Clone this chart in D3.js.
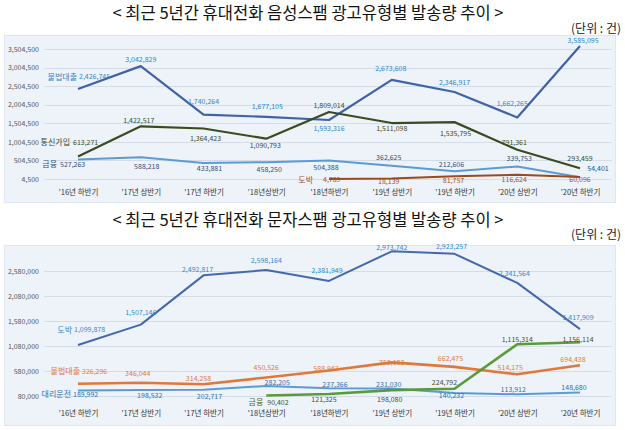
<!DOCTYPE html>
<html><head><meta charset="utf-8">
<script src="https://cdn.jsdelivr.net/npm/d3@7"></script>
<style>
html,body{margin:0;padding:0;background:#fff;}
svg{display:block;font-family:"Noto Sans CJK KR","Noto Sans",sans-serif;}
</style></head>
<body>
<svg id="c" width="625" height="430"></svg>
<script>
// ---------- DATA ----------
const categories = ["'16년 하반기","'17년 상반기","'17년 하반기","'18년상반기","'18년하반기","'19년 상반기","'19년 하반기","'20년 상반기","'20년 하반기"];

// Chart 1: 음성스팸
const title1 = "< 최근 5년간 휴대전화 음성스팸 광고유형별 발송량 추이 >";
const voiceNames = ["불법대출","통신가입","금융","도박"];
const voiceLoan    = [2426745,3042829,1740264,1677105,1593316,2673608,2346917,1662265,3585095];
const voiceTelecom = [613271,1422517,1364423,1090793,1809014,1511098,1535795,791361,293459];
const voiceFinance = [527263,588218,433881,458250,504388,362625,212606,339753,54401];
const voiceGamble  = [null,null,null,null,4789,18139,81757,116624,60096];
const voiceTicks = [4500,504500,1004500,1504500,2004500,2504500,3004500,3504500];

// Chart 2: 문자스팸
const title2 = "< 최근 5년간 휴대전화 문자스팸 광고유형별 발송량 추이 >";
const smsNames = ["도박","불법대출","대리운전","금융"];
const smsGamble  = [1099878,1507146,2492817,2598164,2381949,2973742,2923257,2341564,1417909];
const smsLoan    = [326296,346044,314258,450526,588942,752183,662475,514175,694438];
const smsDriver  = [189992,198532,202717,282205,237366,231030,140232,113912,148680];
const smsFinance = [null,null,null,90402,121325,198080,224792,1115314,1156114];
const smsTicks = [80000,580000,1080000,1580000,2080000,2580000];

const unitText = "(단위 : 건)";

// ---------- LAYOUT / STYLE ----------
const fmt = d3.format(",");
const svg = d3.select("#c");

function drawChart(cfg){
  const g = svg.append("g");
  // title + unit
  g.append("text").attr("x",308).attr("y",cfg.titleY).attr("text-anchor","middle")
    .attr("font-size",16.5).attr("fill","#111").text(cfg.title);
  g.append("text").attr("x",621).attr("y",cfg.unitY).attr("text-anchor","end")
    .attr("font-size",12).attr("fill","#222").text(unitText);
  // panel
  g.append("rect").attr("x",4.5).attr("y",cfg.panel[0]+0.5).attr("width",611).attr("height",cfg.panel[1]-cfg.panel[0])
    .attr("fill","#eef3f9").attr("stroke","#dfe6ef");
  const x = d3.scalePoint().domain(categories).range([78,580]);
  const y = d3.scaleLinear().domain(cfg.domain).range(cfg.range);
  // grid
  g.append("g").selectAll("line").data(cfg.ticks).join("line")
    .attr("x1",44).attr("x2",612).attr("y1",d=>Math.round(y(d))+0.5).attr("y2",d=>Math.round(y(d))+0.5)
    .attr("stroke","#d3dce7").attr("stroke-width",1);
  // y axis
  const ya = g.append("g").attr("transform","translate(39,0)")
    .call(d3.axisLeft(y).tickValues(cfg.ticks).tickFormat(fmt).tickSize(0).tickPadding(0));
  ya.select(".domain").remove();
  ya.selectAll("text").attr("font-size",7).attr("fill","#555").attr("font-family","Noto Sans CJK KR");
  // x axis
  const xa = g.append("g").attr("transform",`translate(0,${cfg.xLabelY})`)
    .call(d3.axisBottom(x).tickSize(0).tickPadding(0));
  xa.select(".domain").remove();
  xa.selectAll("text").attr("font-size",7.5).attr("fill","#333").attr("font-family","Noto Sans CJK KR").attr("dy","0.35em");
  // series
  cfg.series.forEach(s=>{
    const line = d3.line().defined(d=>d!=null).x((d,i)=>x(categories[i])).y(d=>y(d));
    g.append("path").datum(s.values).attr("d",line).attr("fill","none")
      .attr("stroke",s.color).attr("stroke-width",s.width).attr("stroke-linejoin","round");
  });
  // labels
  cfg.series.forEach(s=>{
    const first = s.values.findIndex(v=>v!=null);
    s.values.forEach((v,i)=>{
      if(v==null) return;
      const px = x(categories[i]), py = y(v);
      if(i===first){
        const f = s.first;
        g.append("text").attr("x",px+f.nameDx).attr("y",py+f.dy).attr("dy","0.35em")
          .attr("text-anchor","end").attr("font-size",8).attr("fill",s.nameColor||s.labelColor).text(s.name);
        g.append("text").attr("x",px+f.valDx).attr("y",py+f.dy).attr("dy","0.35em")
          .attr("text-anchor","start").attr("font-size",7).attr("fill",s.labelColor).text(fmt(v));
      } else {
        const o = s.off[i];
        g.append("text").attr("x",px+o[0]).attr("y",py+o[1]).attr("dy","0.35em")
          .attr("text-anchor","middle").attr("font-size",7).attr("fill",s.labelColor).text(fmt(v));
      }
    });
  });
}

drawChart({
  title:title1, titleY:19, unitY:33, panel:[35,202], xLabelY:192,
  domain:[voiceTicks[0],voiceTicks[voiceTicks.length-1]], range:[179,49], ticks:voiceTicks,
  series:[
    {name:voiceNames[0], values:voiceLoan, color:"#3f62aa", width:2.2, labelColor:"#2f86cc",
     first:{nameDx:-1,valDx:1,dy:-12},
     off:[null,[0,-7],[0,-13],[1,-10],[0,9],[-1,-11],[0,-9],[-5,-14],[3,-5]]},
    {name:voiceNames[1], values:voiceTelecom, color:"#3b4a1f", width:2.2, labelColor:"#3d4a1c",
     first:{nameDx:-8,valDx:-5,dy:-14},
     off:[null,[-2,-6],[2,10],[-1,7],[0,-6],[0,6],[1,11],[-3,-7],[0,-10]]},
    {name:voiceNames[2], values:voiceFinance, color:"#5b9bd5", width:2, labelColor:"#2c4f80",
     first:{nameDx:-21,valDx:-18,dy:5},
     off:[null,[6,9],[6,5],[3,7],[-3,7],[-3,-8],[-3,-7],[2,-8],[18,-9]]},
    {name:voiceNames[3], values:voiceGamble, color:"#9a4a1e", width:2, labelColor:"#a0522d",
     first:{nameDx:-16,valDx:-6,dy:1},
     off:[null,null,null,null,null,[-3,3],[-1,4],[-3,5],[0,3]]}
  ]
});

drawChart({
  title:title2, titleY:226, unitY:239, panel:[245,425], xLabelY:413,
  domain:[smsTicks[0],smsTicks[smsTicks.length-1]], range:[396,271], ticks:smsTicks,
  series:[
    {name:smsNames[0], values:smsGamble, color:"#4468b0", width:2, labelColor:"#2e8bd0",
     first:{nameDx:-6,valDx:-4,dy:-15},
     off:[null,[0,-12],[-6,-6],[0,-10],[-2,-10],[0,-4],[-3,-7],[-3,-9],[-2,-12]]},
    {name:smsNames[1], values:smsLoan, color:"#e0783a", width:2.6, labelColor:"#e07b39",
     first:{nameDx:2,valDx:4,dy:-12},
     off:[null,[-3,-9],[-5,-6],[0,-10],[-3,-2],[0,0],[-4,-8],[-7,-7],[-7,-6]]},
    {name:smsNames[2], values:smsDriver, color:"#5b9bd5", width:2, labelColor:"#2f6eb5",
     first:{nameDx:-7,valDx:-5,dy:4},
     off:[null,[9,5],[6,7],[11,-3],[6,-4],[-3,-4],[-3,3],[-4,-5],[-6,-5]]},
    {name:smsNames[3], values:smsFinance, color:"#5a9a3a", width:2.6, labelColor:"#44521f", nameColor:"#4e6b2a",
     first:{nameDx:-3,valDx:1,dy:7},
     off:[null,null,null,null,[-5,6],[-2,9],[-10,-6],[0,-5],[-2,-3]]}
  ]
});
</script>
</body></html>
